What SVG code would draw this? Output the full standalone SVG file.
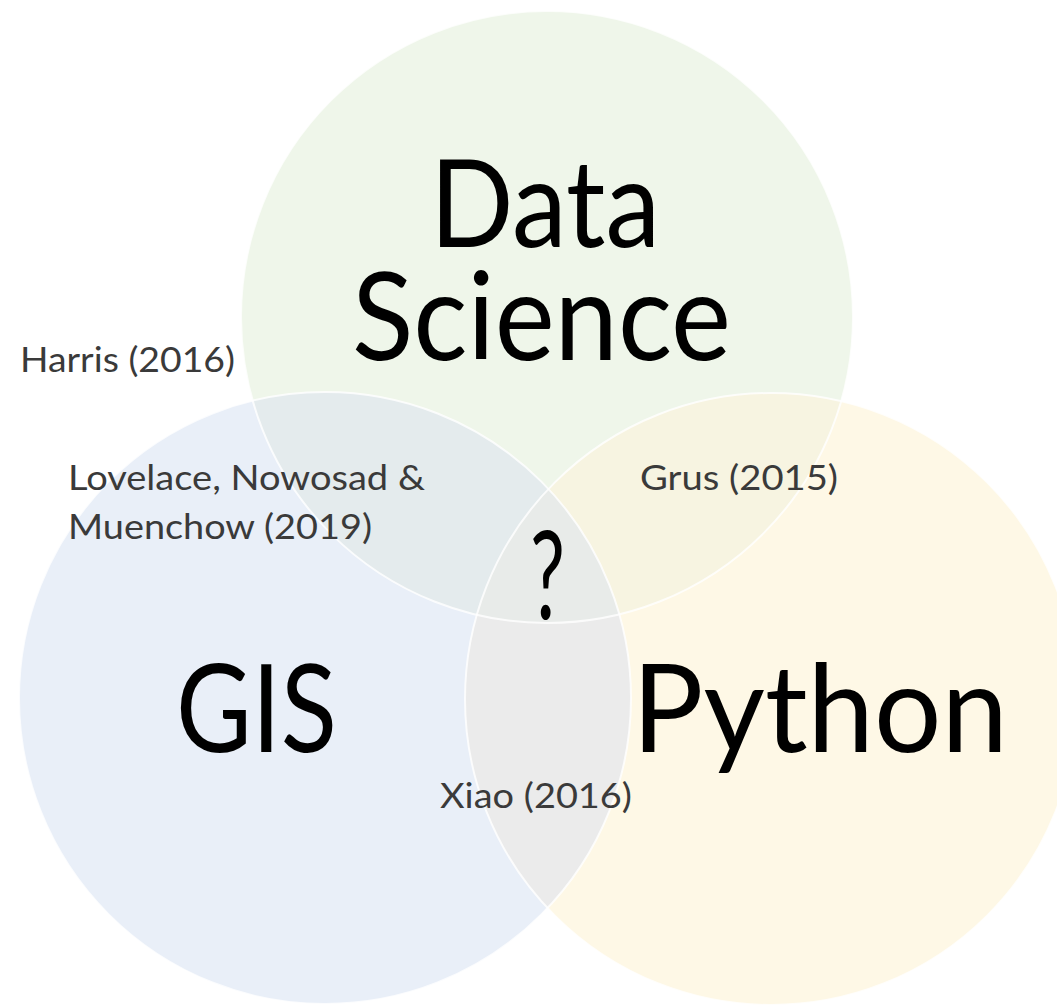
<svg xmlns="http://www.w3.org/2000/svg" width="1057" height="1006" viewBox="0 0 1057 1006">
<style>
.big{font-family:Lato,"Open Sans","Liberation Sans",sans-serif;font-size:123px;fill:#000}
.small{font-family:Lato,"Open Sans","Liberation Sans",sans-serif;font-size:34px;fill:#3a3a3a}
.edge{fill:none;stroke:#fff;stroke-width:2;stroke-opacity:0.8}
</style>
<defs>
<circle id="cDS" cx="547" cy="317" r="306"/>
<circle id="cGIS" cx="325" cy="698" r="306"/>
<circle id="cPY" cx="771" cy="699" r="306"/>
<clipPath id="kDS"><use href="#cDS"/></clipPath>
<clipPath id="kGIS"><use href="#cGIS"/></clipPath>
<clipPath id="kPY"><use href="#cPY"/></clipPath>
</defs>
<rect width="1057" height="1006" fill="#fff"/>
<g id="datascience"><use href="#cDS" fill="#eff6ea"/></g>
<g id="gis"><use href="#cGIS" fill="#e9eff8"/></g>
<g id="python"><use href="#cPY" fill="#fef8e6"/></g>
<g id="overlaps">
<g clip-path="url(#kDS)"><use href="#cGIS" fill="#e4ebed"/></g>
<g clip-path="url(#kDS)"><use href="#cPY" fill="#f7f4e1"/></g>
<g clip-path="url(#kGIS)"><use href="#cPY" fill="#ebebeb"/></g>
<g clip-path="url(#kGIS)"><g clip-path="url(#kDS)"><use href="#cPY" fill="#e8ebe9"/></g></g>
</g>
<g id="edges">
<use href="#cDS" class="edge"/>
<use href="#cGIS" class="edge"/>
<use href="#cPY" class="edge"/>
</g>
<g id="labels">
<text class="big"><tspan x="430" y="247" textLength="230" lengthAdjust="spacingAndGlyphs">Data</tspan><tspan x="352" y="360" textLength="379" lengthAdjust="spacingAndGlyphs">Science</tspan></text>
<text class="big" x="176" y="752" textLength="161" lengthAdjust="spacingAndGlyphs">GIS</text>
<text class="big" x="632" y="752" textLength="376" lengthAdjust="spacingAndGlyphs">Python</text>
<text class="big" x="530" y="619" font-size="74" textLength="35" lengthAdjust="spacingAndGlyphs">?</text>
<text class="small" x="20" y="372" textLength="215" lengthAdjust="spacingAndGlyphs">Harris (2016)</text>
<text class="small" x="68" y="490" textLength="357" lengthAdjust="spacingAndGlyphs">Lovelace, Nowosad &amp;</text>
<text class="small" x="68" y="539" textLength="304" lengthAdjust="spacingAndGlyphs">Muenchow (2019)</text>
<text class="small" x="640" y="490" textLength="198" lengthAdjust="spacingAndGlyphs">Grus (2015)</text>
<text class="small" x="440" y="808" textLength="192" lengthAdjust="spacingAndGlyphs">Xiao (2016)</text>
</g>
</svg>
